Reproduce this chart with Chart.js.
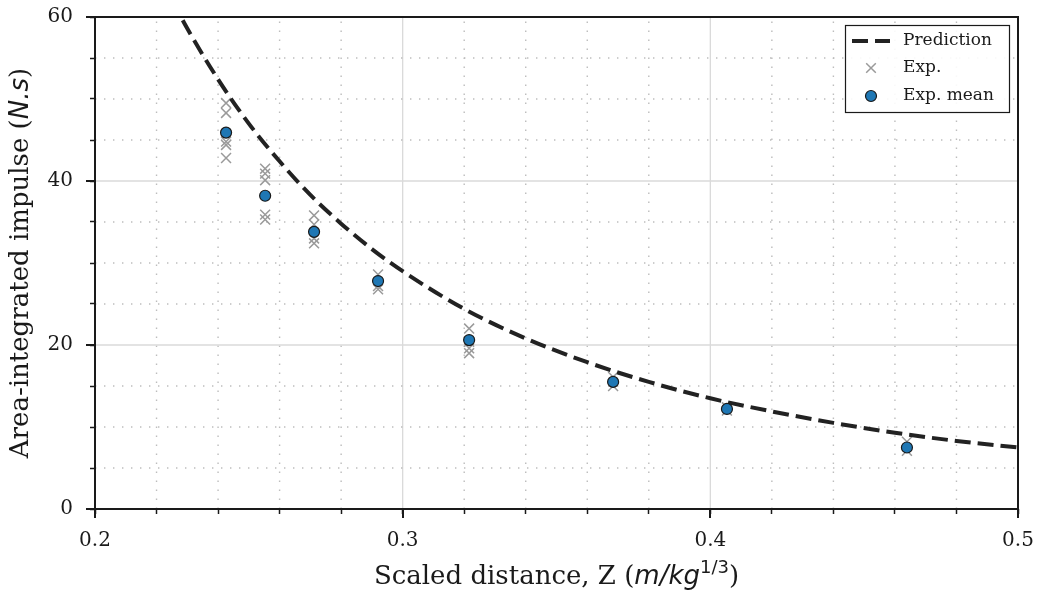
<!DOCTYPE html>
<html><head><meta charset="utf-8">
<script src="https://cdn.jsdelivr.net/npm/chart.js@4.4.0/dist/chart.umd.min.js"></script>
<style>html,body{margin:0;padding:0;background:#fff;}#wrap{width:1043px;height:590px;position:relative;}</style>
</head><body><div id="wrap"><canvas id="c" width="1043" height="590"></canvas></div>
<script>
// ---- data ----
const expZ = [
  0.2426,0.2426,0.2426,0.2426,0.2426,
  0.2553,0.2553,0.2553,0.2553,0.2553,
  0.2712,0.2712,0.2712,0.2712,
  0.2920,0.2920,0.2920,
  0.3216,0.3216,0.3216,0.3216,
  0.3684,0.3684,
  0.4054,0.4054,
  0.4639,0.4639
];
const expImpulse = [
  49.5,48.3,44.8,44.4,42.8,
  41.5,40.9,40.1,35.9,35.3,
  35.8,34.7,33.0,32.4,
  28.6,27.2,26.8,
  22.0,20.4,19.6,19.0,
  16.1,15.0,
  12.4,12.0,
  8.2,7.1
];
const meanZ = [0.2426,0.2553,0.2712,0.2920,0.3216,0.3684,0.4054,0.4639];
const meanImpulse = [45.9,38.2,33.8,27.8,20.6,15.5,12.2,7.5];
const predZ = [0.225,0.23,0.24,0.25,0.26,0.27,0.28,0.29,0.30,0.32,0.34,0.36,0.38,0.40,0.42,0.44,0.46,0.48,0.50];
const predImpulse = [62.1,58.6,52.4,47.0,42.4,38.3,34.8,31.7,29.0,24.4,20.8,17.9,15.5,13.5,11.9,10.5,9.3,8.3,7.5];
const xTickLabels = ['0.2','0.3','0.4','0.5'];
const yTickLabels = ['0','20','40','60'];
const seriesLabels = ['Prediction','Exp.','Exp. mean'];
const xTitleParts = [['Scaled distance, Z (','serif'],['m/kg','ital'],['1/3','sup'],[')','serif']];
const yTitleParts = [['Area-integrated impulse (','serif'],['N.s','ital'],[')','serif']];

const SERIF = "'DejaVu Serif', serif";
const SANS = "'DejaVu Sans', sans-serif";
const INK = '#1a1a1a';

const isMajorX = v => Math.abs(v*10 - Math.round(v*10)) < 1e-6 && xTickLabels.includes((Math.round(v*10)/10).toFixed(1));
const isMajorY = v => yTickLabels.includes(String(Math.round(v))) && Math.abs(v - Math.round(v)) < 1e-6;

function drawParts(ctx, parts, size) {
  const fonts = {
    serif: `${size}px ${SERIF}`,
    ital: `italic ${size}px ${SANS}`,
    sup: `${Math.round(size*0.7)}px ${SANS}`
  };
  let total = 0;
  parts.forEach(p => { ctx.font = fonts[p[1]]; total += ctx.measureText(p[0]).width; });
  let x = -total/2;
  parts.forEach(p => {
    ctx.font = fonts[p[1]];
    ctx.fillText(p[0], x, p[1]==='sup' ? -size*0.42 : 0);
    x += ctx.measureText(p[0]).width;
  });
}

const decor = {
  id: 'decor',
  beforeDatasetsDraw(chart) {
    const {ctx, chartArea: a, scales} = chart;
    ctx.save();
    scales.x.ticks.forEach(t => {
      const px = scales.x.getPixelForValue(t.value);
      if (px <= a.left + 1 || px >= a.right - 1) return;
      ctx.beginPath();
      if (isMajorX(t.value)) { ctx.setLineDash([]); ctx.strokeStyle = '#dadada'; ctx.lineWidth = 1.3; }
      else { ctx.setLineDash([1.4, 7.6]); ctx.strokeStyle = '#bdbdbd'; ctx.lineWidth = 1.4; }
      ctx.moveTo(px, a.bottom); ctx.lineTo(px, a.top); ctx.stroke();
    });
    scales.y.ticks.forEach(t => {
      const py = scales.y.getPixelForValue(t.value);
      if (py <= a.top + 1 || py >= a.bottom - 1) return;
      ctx.beginPath();
      if (isMajorY(t.value)) { ctx.setLineDash([]); ctx.strokeStyle = '#dadada'; ctx.lineWidth = 1.3; }
      else { ctx.setLineDash([1.4, 7.6]); ctx.strokeStyle = '#bdbdbd'; ctx.lineWidth = 1.4; }
      ctx.moveTo(a.left, py); ctx.lineTo(a.right, py); ctx.stroke();
    });
    ctx.restore();
  },
  afterDraw(chart) {
    const {ctx, chartArea: a, scales} = chart;
    ctx.save();
    ctx.setLineDash([]);
    ctx.strokeStyle = INK;
    ctx.lineWidth = 2;
    scales.x.ticks.forEach(t => {
      if (!isMajorX(t.value)) return;
      const px = Math.round(scales.x.getPixelForValue(t.value));
      ctx.beginPath(); ctx.moveTo(px, a.bottom); ctx.lineTo(px, a.bottom + 9); ctx.stroke();
    });
    scales.y.ticks.forEach(t => {
      if (!isMajorY(t.value)) return;
      const py = Math.round(scales.y.getPixelForValue(t.value));
      ctx.beginPath(); ctx.moveTo(a.left - 9, py); ctx.lineTo(a.left, py); ctx.stroke();
    });
    ctx.lineWidth = 2;
    ctx.strokeRect(a.left, a.top, a.right - a.left, a.bottom - a.top);

    // legend
    const ds = chart.data.datasets;
    const bx = 845, by = 25, bw = 164, bh = 87;
    ctx.fillStyle = 'rgba(255,255,255,0.9)';
    ctx.fillRect(bx, by, bw, bh);
    ctx.lineWidth = 1.2; ctx.strokeStyle = INK;
    ctx.strokeRect(bx + 0.5, by + 0.5, bw, bh);
    const rows = [41, 68, 96];
    const sx = 871;
    ctx.beginPath(); ctx.lineWidth = 4; ctx.strokeStyle = ds[0].borderColor;
    ctx.setLineDash([16, 7]); ctx.moveTo(852, rows[0]); ctx.lineTo(890, rows[0]); ctx.stroke();
    ctx.setLineDash([]);
    ctx.beginPath(); ctx.lineWidth = 1.5; ctx.strokeStyle = ds[1].borderColor;
    const r = 4.8;
    ctx.moveTo(sx - r, rows[1] - r); ctx.lineTo(sx + r, rows[1] + r);
    ctx.moveTo(sx - r, rows[1] + r); ctx.lineTo(sx + r, rows[1] - r); ctx.stroke();
    ctx.beginPath(); ctx.arc(sx, rows[2], 5.5, 0, Math.PI*2);
    ctx.fillStyle = ds[2].backgroundColor; ctx.fill();
    ctx.lineWidth = 1.2; ctx.strokeStyle = ds[2].borderColor; ctx.stroke();
    ctx.fillStyle = INK; ctx.font = `17px ${SERIF}`; ctx.textBaseline = 'middle'; ctx.textAlign = 'left';
    [ds[0].label, ds[1].label, ds[2].label].forEach((t, i) => ctx.fillText(t, 903, rows[i]));

    // axis titles
    ctx.fillStyle = INK; ctx.textBaseline = 'alphabetic'; ctx.textAlign = 'left';
    ctx.save();
    ctx.translate((a.left + a.right)/2, 584);
    drawParts(ctx, xTitleParts, 26);
    ctx.restore();
    ctx.save();
    ctx.translate(28, (a.top + a.bottom)/2);
    ctx.rotate(-Math.PI/2);
    drawParts(ctx, yTitleParts, 26);
    ctx.restore();
    ctx.restore();
  }
};

new Chart(document.getElementById('c'), {
  type: 'scatter',
  data: {
    datasets: [
      {
        label: seriesLabels[0], type: 'line', order: 1,
        data: predZ.map((z, i) => ({x: z, y: predImpulse[i]})),
        borderColor: '#222222', borderWidth: 4, borderDash: [16, 7], borderCapStyle: 'butt',
        pointRadius: 0, fill: false, cubicInterpolationMode: 'monotone'
      },
      {
        label: seriesLabels[1], order: 2,
        data: expZ.map((z, i) => ({x: z, y: expImpulse[i]})),
        pointStyle: 'crossRot', pointRadius: 7, borderColor: '#9a9a9a', backgroundColor: '#9a9a9a', borderWidth: 1.5
      },
      {
        label: seriesLabels[2], order: 0,
        data: meanZ.map((z, i) => ({x: z, y: meanImpulse[i]})),
        pointStyle: 'circle', pointRadius: 5.5, backgroundColor: '#1f77b4', borderColor: INK, borderWidth: 1.2
      }
    ]
  },
  options: {
    responsive: false, animation: false, events: [],
    layout: {autoPadding: false, padding: {left: 0, top: 17, right: 25, bottom: 0}},
    plugins: {legend: {display: false}, tooltip: {enabled: false}},
    scales: {
      x: {
        type: 'linear', min: 0.2, max: 0.5,
        afterFit: s => { s.height = 81; s.paddingLeft = 0; s.paddingRight = 0; },
        border: {display: false},
        grid: {drawOnChartArea: false, drawTicks: true, tickLength: 5, tickWidth: 1.5, tickColor: INK},
        ticks: {
          stepSize: 0.02, autoSkip: false, maxRotation: 0, minRotation: 0, padding: 15,
          color: INK, font: {family: SERIF, size: 20},
          callback: v => isMajorX(v) ? (Math.round(v*10)/10).toFixed(1) : ''
        }
      },
      y: {
        type: 'linear', min: 0, max: 60,
        afterFit: s => { s.width = 95; s.paddingTop = 0; s.paddingBottom = 0; },
        border: {display: false},
        grid: {drawOnChartArea: false, drawTicks: true, tickLength: 5, tickWidth: 1.5, tickColor: INK},
        ticks: {
          stepSize: 5, autoSkip: false, padding: 17,
          color: INK, font: {family: SERIF, size: 20},
          callback: v => isMajorY(v) ? String(Math.round(v)) : ''
        }
      }
    }
  },
  plugins: [decor]
});
</script></body></html>
